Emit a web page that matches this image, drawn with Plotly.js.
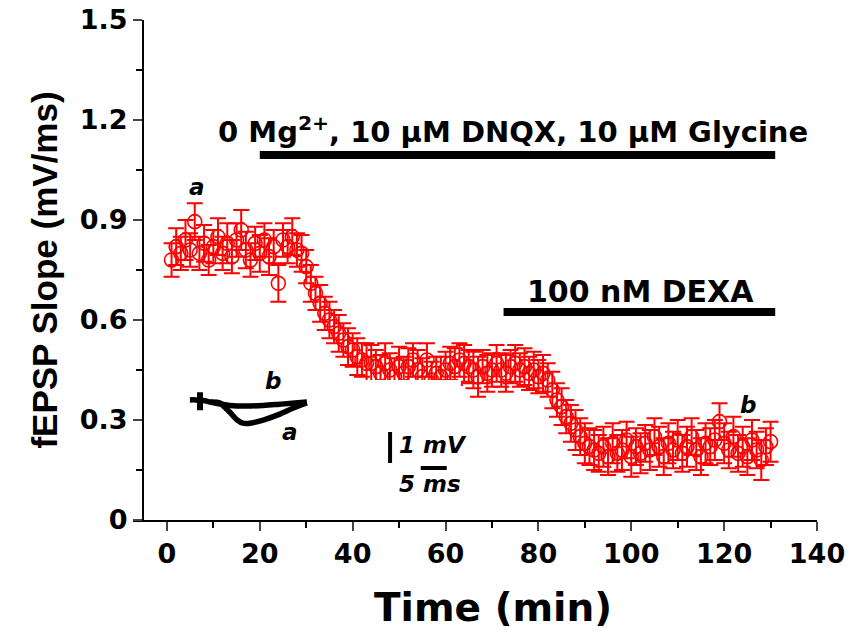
<!DOCTYPE html>
<html>
<head>
<meta charset="utf-8">
<script src="https://cdn.plot.ly/plotly-3.0.1.min.js"></script>
<style>html,body{margin:0;padding:0;background:#fff;}#chart{width:850px;height:642px;}</style>
</head>
<body>
<div id="chart"></div>
<script>
// ---- main time course (min, mV/ms) ----
var timeMin = [];
for (var i = 1; i <= 130; i++) timeMin.push(i);
var slope = [
 0.78,0.82,0.80,0.84,0.81,0.895,0.80,0.83,0.78,0.82,
 0.85,0.80,0.83,0.79,0.84,0.87,0.81,0.78,0.83,0.80,
 0.84,0.79,0.82,0.71,0.84,0.82,0.85,0.81,0.80,0.76,
 0.71,0.68,0.65,0.62,0.60,0.58,0.56,0.54,0.52,0.51,
 0.49,0.48,0.47,0.47,0.46,0.44,0.47,0.45,0.43,0.46,
 0.44,0.46,0.48,0.45,0.43,0.48,0.42,0.44,0.43,0.45,
 0.47,0.46,0.48,0.47,0.46,0.45,0.43,0.46,0.44,0.45,
 0.47,0.45,0.44,0.46,0.47,0.45,0.46,0.44,0.45,0.43,
 0.44,0.42,0.39,0.36,0.34,0.31,0.29,0.27,0.25,0.23,
 0.22,0.21,0.20,0.22,0.19,0.23,0.20,0.21,0.24,0.19,
 0.22,0.20,0.23,0.21,0.25,0.22,0.19,0.23,0.21,0.24,
 0.20,0.22,0.25,0.21,0.19,0.23,0.22,0.24,0.295,0.23,
 0.21,0.25,0.20,0.22,0.19,0.24,0.21,0.18,0.22,0.235
];
var slopeErr = [
 0.050,0.055,0.050,0.060,0.050,0.055,0.050,0.055,0.045,0.050,
 0.055,0.050,0.060,0.050,0.050,0.060,0.055,0.050,0.050,0.055,
 0.050,0.055,0.050,0.055,0.050,0.050,0.055,0.050,0.055,0.050,
 0.055,0.050,0.055,0.050,0.055,0.050,0.055,0.050,0.055,0.050,
 0.055,0.050,0.060,0.055,0.050,0.055,0.060,0.050,0.055,0.060,
 0.050,0.055,0.050,0.060,0.055,0.050,0.055,0.050,0.060,0.055,
 0.050,0.055,0.050,0.055,0.050,0.055,0.060,0.050,0.055,0.050,
 0.055,0.050,0.055,0.050,0.055,0.050,0.055,0.050,0.055,0.050,
 0.055,0.050,0.055,0.050,0.055,0.050,0.055,0.060,0.055,0.060,
 0.055,0.060,0.055,0.060,0.055,0.060,0.055,0.060,0.055,0.060,
 0.055,0.060,0.055,0.060,0.055,0.060,0.055,0.060,0.055,0.060,
 0.055,0.060,0.055,0.060,0.055,0.060,0.055,0.060,0.055,0.060,
 0.055,0.060,0.055,0.060,0.055,0.060,0.055,0.060,0.055,0.060
];

// drug application periods (min) and bar level (mV/ms)
var drug1Start = 20, drug1End = 131, drug1Level = 1.095;
var drug1Label = "0 Mg<sup>2+</sup>, 10 \u03bcM DNQX, 10 \u03bcM Glycine";
var drug2Start = 72.5, drug2End = 131, drug2Level = 0.624;
var drug2Label = "100 nM DEXA";

// axis ticks
var xTicks = [0,20,40,60,80,100,120,140];
var yTicks = [0,0.3,0.6,0.9,1.2,1.5];
var yTickText = ["0","0.3","0.6","0.9","1.2","1.5"];

// ---- inset fEPSP traces (ms, mV) ----
var traceB_ms = [1.9, 3.0, 4.5, 5.8, 7.7, 9.6, 12.5, 16.0, 19.2, 22.1, 24.4];
var traceB_mV = [0.10, 0.10, 0.08, 0.03, -0.03, -0.08, -0.10, -0.08, -0.04, 0.0, 0.03];
var traceA_ms = [5.8, 7.7, 8.5, 9.6, 11.0, 12.1, 13.5, 16.0, 19.2, 21.7, 24.4];
var traceA_mV = [0.03, 0.0, -0.12, -0.30, -0.55, -0.65, -0.65, -0.55, -0.36, -0.17, 0.0];
var artifact_ms = [3.85, 3.85];
var artifact_mV = [0.35, -0.23];
// scale bars: 1 mV and 5 ms
var vBar_ms = [40.4, 40.4], vBar_mV = [-0.935, -1.935];
var hBar_ms = [46.3, 51.3], hBar_mV = [-2.1, -2.1];

var RED = "#ff0000";
var FONT = "DejaVu Sans, Liberation Sans, sans-serif";
var FONT_Y = "Liberation Sans, Arial, sans-serif";

var data = [
  {x: timeMin, y: slope, type: "scatter", mode: "markers", cliponaxis: false,
   marker: {symbol: "circle-open", size: 14, color: RED, line: {width: 1.6, color: RED}},
   error_y: {type: "data", array: slopeErr, visible: true, color: RED, thickness: 2, width: 8}},
  {x: [drug1Start, drug1End], y: [drug1Level, drug1Level], mode: "lines",
   line: {color: "#000", width: 8}, cliponaxis: false},
  {x: [drug2Start, drug2End], y: [drug2Level, drug2Level], mode: "lines",
   line: {color: "#000", width: 8}, cliponaxis: false},
  {x: traceB_ms, y: traceB_mV, xaxis: "x2", yaxis: "y2", mode: "lines",
   line: {color: "#000", width: 5.5, shape: "spline"}},
  {x: traceA_ms, y: traceA_mV, xaxis: "x2", yaxis: "y2", mode: "lines",
   line: {color: "#000", width: 5.5, shape: "spline"}},
  {x: artifact_ms, y: artifact_mV, xaxis: "x2", yaxis: "y2", mode: "lines",
   line: {color: "#000", width: 6}},
  {x: vBar_ms, y: vBar_mV, xaxis: "x2", yaxis: "y2", mode: "lines",
   line: {color: "#000", width: 4}},
  {x: hBar_ms, y: hBar_mV, xaxis: "x2", yaxis: "y2", mode: "lines",
   line: {color: "#000", width: 4}}
];

var tickFont = {family: FONT, size: 27, color: "#000", weight: "bold"};
var italicFont = {family: FONT, size: 23, weight: "bold", style: "italic", color: "#000"};
var layout = {
  width: 850, height: 642,
  margin: {l: 133, r: 33, t: 20, b: 122},
  paper_bgcolor: "#fff", plot_bgcolor: "#fff",
  showlegend: false,
  font: {family: FONT, color: "#000"},
  xaxis: {
    range: [-7.3, 140], tickvals: xTicks, ticks: "outside", ticklen: 9, tickwidth: 2,
    showline: true, linewidth: 2, linecolor: "#000", showgrid: false, zeroline: false,
    tickfont: tickFont,
    minor: {dtick: 10, tick0: 0, ticks: "outside", ticklen: 6, tickwidth: 2, tickcolor: "#000", showgrid: false}
  },
  yaxis: {
    range: [0, 1.5], tickvals: yTicks, ticktext: yTickText, ticks: "outside", ticklen: 9, tickwidth: 2,
    anchor: "free", position: 0.0146,
    showline: true, linewidth: 2, linecolor: "#000", showgrid: false, zeroline: false,
    tickfont: tickFont,
    minor: {dtick: 0.15, tick0: 0, ticks: "outside", ticklen: 6, tickwidth: 2, tickcolor: "#000", showgrid: false},
    title: {text: "fEPSP Slope (mV/ms)", font: {family: FONT_Y, size: 35, weight: "bold", color: "#000"}, standoff: 10}
  },
  xaxis2: {domain: [0.06871, 0.47924], anchor: "y2", range: [0, 54], visible: false},
  yaxis2: {domain: [0.04, 0.28], anchor: "x2", range: [-3.129, 0.742], visible: false},
  annotations: [
    {x: 0.526, y: -0.174, xref: "paper", yref: "paper", xanchor: "center", yanchor: "middle",
     text: "Time (min)", showarrow: false,
     font: {family: FONT, size: 39, weight: "bold", color: "#000"}},
    {x: (drug1Start + drug1End) / 2 - 1, y: 1.17, xref: "x", yref: "y", text: drug1Label, showarrow: false,
     font: {family: FONT, size: 29, weight: "bold", color: "#000"}},
    {x: 101.9, y: 0.685, xref: "x", yref: "y", text: drug2Label, showarrow: false,
     font: {family: FONT, size: 30, weight: "bold", color: "#000"}},
    {x: 6.5, y: 1.0, xref: "x", yref: "y", text: "a", showarrow: false, font: italicFont},
    {x: 125.2, y: 0.345, xref: "x", yref: "y", text: "b", showarrow: false, font: italicFont},
    {x: 21.2, y: -0.94, xref: "x2", yref: "y2", text: "a", showarrow: false, font: italicFont},
    {x: 17.9, y: 0.71, xref: "x2", yref: "y2", text: "b", showarrow: false, font: italicFont},
    {x: 48.7, y: -1.35, xref: "x2", yref: "y2", text: "1 mV", showarrow: false, font: italicFont},
    {x: 48.1, y: -2.61, xref: "x2", yref: "y2", text: "5 ms", showarrow: false, font: italicFont}
  ]
};

Plotly.newPlot("chart", data, layout, {displayModeBar: false, staticPlot: true});
</script>
</body>
</html>
